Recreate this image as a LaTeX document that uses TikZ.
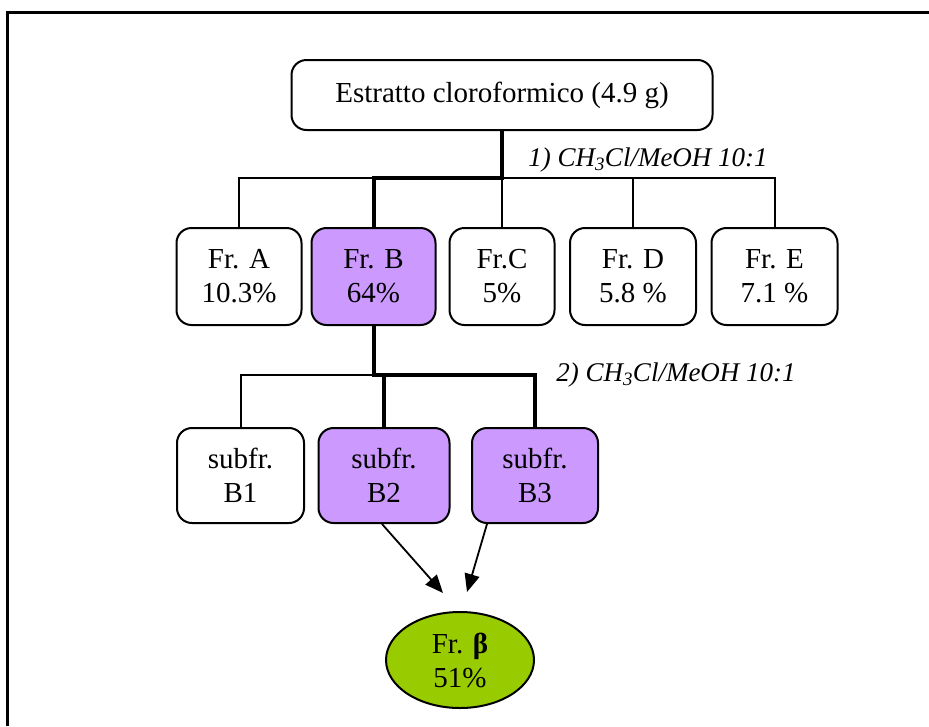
\documentclass[tikz,border=0pt]{standalone}
\usepackage{fontspec}
\setmainfont{Liberation Serif}
\usetikzlibrary{arrows.meta,shapes.geometric,calc}
\definecolor{lilac}{HTML}{CC99FF}
\definecolor{lime}{HTML}{99CC00}
\begin{document}
\begin{tikzpicture}[x=1pt,y=-1pt,
  fbox/.style={draw,line width=2pt,rounded corners=15pt,inner sep=0pt,align=center,
    minimum height=97pt,font=\fontsize{29}{34}\selectfont},
  topbox/.style={fbox,minimum height=70pt,minimum width=421pt},
  hl/.style={fill=lilac},
  thinline/.style={line width=2pt},
  thickline/.style={line width=4pt},
  arr/.style={line width=1.8pt,-{Triangle[length=18pt,width=15pt]}},
  lbl/.style={font=\fontsize{27}{32}\selectfont\itshape,inner sep=0pt}
]
\useasboundingbox (0,0) rectangle (929,726);
% frame
\draw[line width=3pt] (7,726) -- (7,12) -- (929,12);

\node[topbox] (top) at (502,95) {Estratto cloroformico (4.9 g)};

\node[fbox,minimum width=125pt] (A) at (239,276.5) {Fr. A\\10.3\%};
\node[fbox,hl,minimum width=124pt] (B) at (373.5,276.5) {Fr. B\\64\%};
\node[fbox,minimum width=105pt] (C) at (502,276.5) {Fr.C\\5\%};
\node[fbox,minimum width=126pt] (D) at (633,276.5) {Fr. D\\5.8 \%};
\node[fbox,minimum width=126pt] (E) at (774.5,276.5) {Fr. E\\7.1 \%};

\node[fbox,minimum width=127pt,minimum height=95pt] (B1) at (240.5,475.5) {subfr.\\B1};
\node[fbox,hl,minimum width=131pt,minimum height=95pt] (B2) at (384,475.5) {subfr.\\B2};
\node[fbox,hl,minimum width=126pt,minimum height=95pt] (B3) at (535,475.5) {subfr.\\B3};

\node[ellipse,draw,line width=2pt,fill=lime,minimum width=148pt,minimum height=96pt,
  inner sep=0pt,align=center,font=\fontsize{29}{34}\selectfont] (beta) at (460,660)
  {Fr. {\bfseries β}\\51\%};

\node[lbl] (l1) at (648,160) {1) CH\textsubscript{3}Cl/MeOH 10:1};
\node[lbl] (l2) at (676,375) {2) CH\textsubscript{3}Cl/MeOH 10:1};

% first level connectors
\coordinate (j1) at (502,178);
\draw[thinline] (A.north) |- (E.north |- j1) -- (E.north);
\draw[thinline] (C.north) -- (C.north |- j1);
\draw[thinline] (D.north) -- (D.north |- j1);
\draw[thickline] (top.south) -- (j1) -| (B.north);

% second level connectors
\coordinate (j2) at (373.5,375);
\draw[thinline] (B1.north) |- (j2);
\draw[thickline] (B.south) -- (j2) -| (B3.north);
\draw[thickline] (B2.north) -- (B2.north |- j2);

% arrows
\coordinate (t1) at (443,593);
\coordinate (t2) at (467,592);
\draw[arr] ([xshift=-2pt]B2.south) -- (t1);
\draw[arr] ([xshift=-48pt]B3.south) -- (t2);
\end{tikzpicture}
\end{document}
